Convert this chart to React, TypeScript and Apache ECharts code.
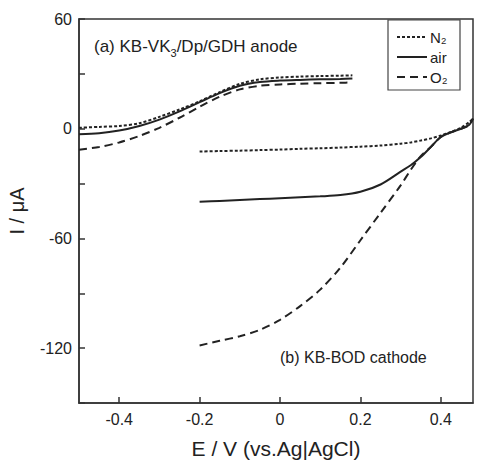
import React, { useEffect, useRef } from "react";
import * as echarts from "echarts";

const anodeE = [-0.5, -0.45, -0.4, -0.35, -0.3, -0.25, -0.2, -0.15, -0.1, -0.05, 0, 0.05, 0.1, 0.15, 0.18];
const anodeN2 = [0.5, 1, 1.5, 3, 6.5, 10.5, 15, 20, 24.5, 27, 28, 28.5, 28.8, 29, 29.2];
const anodeAir = [-3, -2.5, -1, 1.5, 5, 9.5, 14.5, 19.5, 23.5, 25.5, 26.3, 26.7, 27, 27.2, 27.4];
const anodeO2 = [-11.5, -10, -7.5, -4, 0.5, 6, 12, 17.5, 21.5, 23.5, 24.2, 24.6, 24.9, 25.1, 25.3];

const cathodeE = [-0.2, -0.15, -0.1, -0.05, 0, 0.05, 0.1, 0.15, 0.2, 0.25, 0.3, 0.325, 0.35, 0.375, 0.4, 0.425, 0.45, 0.47, 0.48];
const cathodeN2 = [-12.5, -12.2, -12, -11.7, -11.4, -11, -10.7, -10.3, -9.8, -9.2, -8.2, -7.5, -6.5, -5.3, -3.7, -1.8, 0.5, 3.5, 5.5];
const cathodeAir = [-40, -39.5, -39, -38.5, -38, -37.5, -37, -36.3, -34.5, -30.5, -23.5, -20, -15.5, -10, -4.5, -2, 0, 2, 5.5];
const cathodeO2 = [-118.5, -116, -113.5, -110, -104.5, -97, -88, -76, -61, -46, -31, -22.5, -15, -10, -4.5, -2, 0, 2, 5.5];

const seriesNames = ["N₂", "air", "O₂"];
const xTicks = [-0.4, -0.2, 0, 0.2, 0.4];
const yLabelTicks = [-120, -60, 0, 60];

const lineColor = "#222";
const dashes: (number[] | null)[] = [[3, 2], null, [8, 5]];

function pairs(xs: number[], ys: number[]) {
  return xs.map((x, i) => [x, ys[i]]);
}

export default function App() {
  const ref = useRef<HTMLDivElement>(null);
  useEffect(() => {
    if (!ref.current) return;
    const chart = echarts.init(ref.current, undefined, { renderer: "svg" });
    const anode = [anodeN2, anodeAir, anodeO2];
    const cathode = [cathodeN2, cathodeAir, cathodeO2];
    const series: any[] = [];
    seriesNames.forEach((name, i) => {
      [pairs(anodeE, anode[i]), pairs(cathodeE, cathode[i])].forEach((data) => {
        series.push({
          type: "line",
          name,
          data,
          showSymbol: false,
          symbol: "none",
          smooth: 0.3,
          lineStyle: { color: lineColor, width: 2, type: dashes[i] ?? "solid" },
        });
      });
    });
    const font = "Liberation Sans, Arial, sans-serif";

    const legendLeft = 388;
    const legendTop = 20;
    const legendItems: any[] = [
      {
        type: "rect",
        shape: { x: legendLeft, y: legendTop, width: 72, height: 70 },
        style: { fill: "#fff", stroke: "#444", lineWidth: 1.2 },
        z: 10,
      },
    ];
    seriesNames.forEach((name, i) => {
      const cy = legendTop + 17 + i * 20;
      legendItems.push({
        type: "line",
        shape: { x1: legendLeft + 9, y1: cy, x2: legendLeft + 39, y2: cy },
        style: { stroke: lineColor, lineWidth: 2, lineDash: dashes[i] ?? undefined },
        z: 11,
      });
      legendItems.push({
        type: "text",
        x: legendLeft + 42,
        y: cy,
        style: {
          text: name,
          fontSize: 15,
          fontFamily: font,
          fill: "#222",
          verticalAlign: "middle",
        },
        z: 11,
      });
    });

    chart.setOption({
      animation: false,
      backgroundColor: "#ffffff",
      textStyle: { fontFamily: font },
      grid: {
        left: 79,
        right: 5,
        top: 19,
        bottom: 59,
        containLabel: false,
        outerBoundsMode: "none",
        show: true,
        borderColor: "#333",
        borderWidth: 1.5,
        backgroundColor: "transparent",
      },
      xAxis: {
        type: "value",
        min: -0.5,
        max: 0.48,
        name: "E / V (vs.Ag|AgCl)",
        nameLocation: "middle",
        nameGap: 35,
        nameTextStyle: { fontSize: 21, color: "#222", fontFamily: font },
        axisLine: { show: true, onZero: false, lineStyle: { color: "#333", width: 1.5 } },
        axisTick: { show: true, inside: true, length: 6, customValues: xTicks, lineStyle: { color: "#333", width: 1.5 } },
        axisLabel: { customValues: xTicks, fontSize: 16, color: "#222", margin: 8 },
        splitLine: { show: false },
      },
      yAxis: {
        type: "value",
        min: -150,
        max: 60,
        interval: 30,
        name: "I / μA",
        nameLocation: "middle",
        nameGap: 52,
        nameTextStyle: { fontSize: 20, color: "#222", fontFamily: font },
        axisLine: { show: true, onZero: false, lineStyle: { color: "#333", width: 1.5 } },
        axisTick: { show: true, inside: true, length: 6, lineStyle: { color: "#333", width: 1.5 } },
        axisLabel: {
          fontSize: 16,
          color: "#222",
          margin: 7,
          formatter: (v: number) => (yLabelTicks.includes(v) ? String(v) : ""),
        },
        splitLine: { show: false },
      },
      graphic: [
        {
          type: "text",
          left: 94,
          top: 38,
          style: {
            text: "(a) KB-VK{sub|3}/Dp/GDH anode",
            fontSize: 17,
            fontFamily: font,
            fill: "#222",
            rich: {
              sub: { fontSize: 11, padding: [12, 0, 0, 0], fill: "#222", fontFamily: font },
            },
          },
        },
        {
          type: "text",
          left: 280,
          top: 349,
          style: {
            text: "(b) KB-BOD cathode",
            fontSize: 16,
            fontFamily: font,
            fill: "#222",
          },
        },
        ...legendItems,
      ],
      series,
    });
    return () => chart.dispose();
  }, []);
  return (
    <div
      ref={ref}
      style={{ position: "fixed", left: 0, top: 0, width: 478, height: 462 }}
    />
  );
}
